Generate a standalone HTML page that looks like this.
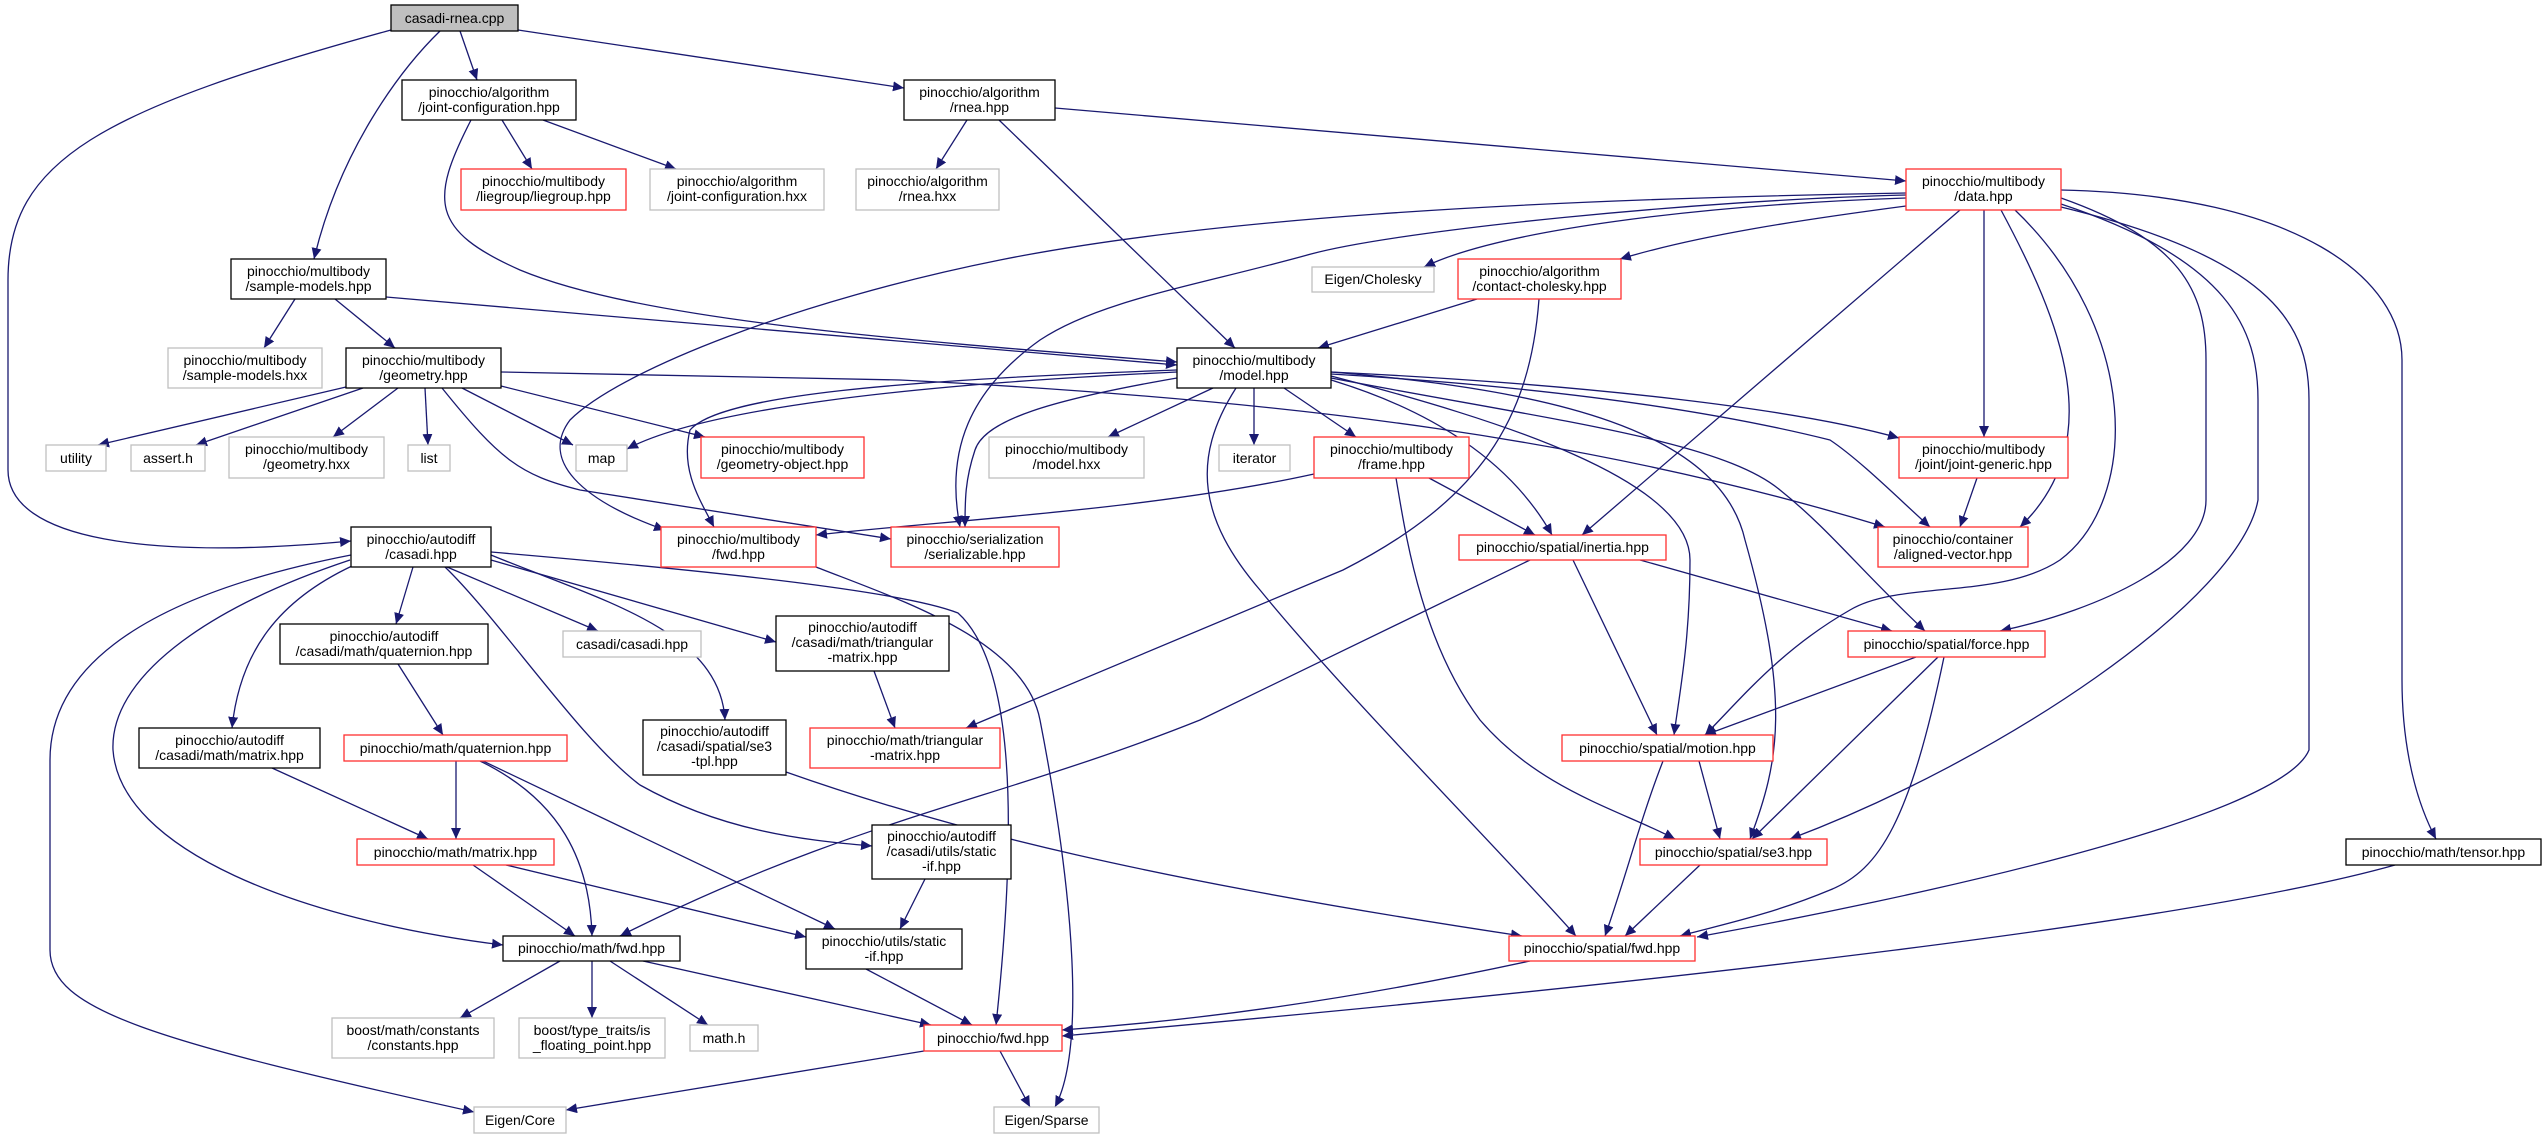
<!DOCTYPE html>
<html><head><meta charset="utf-8"><style>
html,body{margin:0;padding:0;background:#fff}
svg{display:block}
text{font-family:"Liberation Sans",sans-serif;font-size:14px;fill:#000;text-anchor:middle}
.e{fill:none;stroke:#191970;stroke-width:1.3}
.k{fill:#fff;stroke:#000;stroke-width:1.3}
.r{fill:#fff;stroke:#ff3030;stroke-width:1.3}
.g{fill:#fff;stroke:#bfbfbf;stroke-width:1.3}
</style></head><body>
<svg width="2547" height="1139" viewBox="0 0 2547 1139" xmlns="http://www.w3.org/2000/svg">
<defs><marker id="a" markerUnits="userSpaceOnUse" markerWidth="12" markerHeight="10" refX="11" refY="5" orient="auto"><path d="M0,0 L11,5 L0,10 z" fill="#191970"/></marker></defs>
<g class="e" marker-end="url(#a)">
<path d="M460,31 L477,80"/>
<path d="M518,30 L904,88"/>
<path d="M440,31 C400,70 340,150 314,259"/>
<path d="M391,30 C100,110 8,160 8,280 L8,470 C8,540 150,560 351,541"/>
<path d="M502,120 L532,169"/>
<path d="M543,120 L676,169"/>
<path d="M471,120 C430,200 430,230 520,270 C640,320 900,340 1177,362"/>
<path d="M386,297 L1177,365"/>
<path d="M295,299 L264,348"/>
<path d="M335,299 L395,348"/>
<path d="M346,387 L98,445"/>
<path d="M363,388 L196,445"/>
<path d="M398,388 L333,437"/>
<path d="M425,388 L428,445"/>
<path d="M462,388 L573,445"/>
<path d="M501,386 L705,437"/>
<path d="M442,388 C500,460 520,475 580,490 L891,539"/>
<path d="M501,372 L900,380 C1300,400 1600,440 1885,527"/>
<path d="M967,120 L936,169"/>
<path d="M999,120 L1235,348"/>
<path d="M1055,108 L1906,181"/>
<path d="M1906,198 C1700,205 1500,230 1424,267"/>
<path d="M1906,206 C1800,220 1700,235 1620,259"/>
<path d="M1906,193 C1500,200 1200,220 1000,260 C800,300 620,370 570,420 C540,460 580,500 665,530"/>
<path d="M1906,195 C1700,200 1400,230 1311,254 C1200,285 1100,300 1040,340 C970,390 945,450 960,527"/>
<path d="M1960,210 L1582,535"/>
<path d="M1984,210 L1984,437"/>
<path d="M2001,210 C2060,320 2110,440 2020,527"/>
<path d="M2015,210 C2140,330 2140,500 2060,560 C2000,600 1900,580 1850,610 C1780,650 1740,700 1705,735"/>
<path d="M2061,198 C2180,240 2206,290 2206,360 L2206,500 C2206,560 2100,610 2000,631"/>
<path d="M2061,204 C2230,260 2258,330 2258,400 L2258,500 C2240,600 2000,760 1790,839"/>
<path d="M2061,207 C2280,260 2309,330 2309,400 L2309,750 C2280,820 1900,900 1697,937"/>
<path d="M2061,190 C2300,195 2402,280 2402,360 L2402,680 C2402,730 2410,790 2436,839"/>
<path d="M1177,372 C900,385 700,410 627,449"/>
<path d="M1177,370 C900,380 720,395 690,430 C680,470 700,500 714,527"/>
<path d="M1177,378 C1050,400 985,420 975,450 C965,480 965,500 965,527"/>
<path d="M1213,388 L1108,437"/>
<path d="M1254,388 L1254,445"/>
<path d="M1284,388 L1356,437"/>
<path d="M1331,380 C1430,410 1510,460 1552,535"/>
<path d="M1331,372 C1600,385 1800,410 1899,438"/>
<path d="M1331,374 C1600,390 1750,420 1830,440 C1860,460 1900,500 1930,527"/>
<path d="M1331,376 C1500,420 1690,480 1690,560 C1690,640 1680,690 1674,735"/>
<path d="M1331,372 C1550,390 1720,430 1745,540 C1790,700 1780,760 1750,839"/>
<path d="M1331,378 C1550,420 1720,440 1780,490 C1830,530 1860,570 1925,631"/>
<path d="M1236,388 C1190,460 1200,520 1260,590 C1350,700 1500,850 1576,936"/>
<path d="M1477,299 L1318,348"/>
<path d="M1539,299 C1530,420 1480,500 1343,570 L966,728"/>
<path d="M1314,474 C1150,510 950,520 816,535"/>
<path d="M1429,478 L1535,535"/>
<path d="M1396,478 C1405,530 1420,640 1480,720 C1540,790 1620,810 1675,839"/>
<path d="M1977,478 L1960,527"/>
<path d="M1640,560 L1892,631"/>
<path d="M1573,560 L1657,735"/>
<path d="M1530,560 L1200,720 C1000,800 850,820 620,936"/>
<path d="M1916,657 L1705,735"/>
<path d="M1938,657 L1752,839"/>
<path d="M1944,657 C1910,820 1880,870 1830,890 C1770,915 1720,925 1680,936"/>
<path d="M1699,761 L1720,839"/>
<path d="M1663,761 C1640,820 1625,880 1605,936"/>
<path d="M1700,865 L1625,936"/>
<path d="M1530,961 C1350,1000 1200,1020 1062,1030"/>
<path d="M2395,865 C2200,920 1700,980 1062,1036"/>
<path d="M924,1051 L566,1110"/>
<path d="M1000,1051 L1030,1107"/>
<path d="M816,567 C900,600 1025,640 1040,720 C1075,900 1085,1050 1055,1107"/>
<path d="M560,961 L460,1018"/>
<path d="M592,961 L592,1018"/>
<path d="M610,961 L708,1025"/>
<path d="M643,961 L931,1025"/>
<path d="M866,969 L972,1025"/>
<path d="M925,879 L900,929"/>
<path d="M473,865 L575,936"/>
<path d="M506,865 L806,937"/>
<path d="M456,761 L456,839"/>
<path d="M480,761 C560,800 590,860 592,936"/>
<path d="M483,761 L835,929"/>
<path d="M272,768 L428,839"/>
<path d="M398,664 L443,735"/>
<path d="M874,671 L895,728"/>
<path d="M786,772 C950,830 1150,880 1522,936"/>
<path d="M413,567 L396,624"/>
<path d="M447,567 L598,631"/>
<path d="M491,560 L776,642"/>
<path d="M352,566 C280,600 240,650 232,728"/>
<path d="M350,560 C200,610 110,680 113,750 C120,850 300,920 503,945"/>
<path d="M351,555 C120,600 50,680 50,760 L50,950 C50,1010 150,1040 474,1112"/>
<path d="M491,555 C600,600 720,630 725,720"/>
<path d="M445,567 C500,620 580,740 640,785 C720,830 800,840 872,846"/>
<path d="M491,552 C700,570 900,590 958,613 C1010,660 1020,800 996,1025"/>
</g>
<rect x="391" y="5" width="127" height="26" fill="#bfbfbf" stroke="#000" stroke-width="1.3"/><text x="454.5" y="23">casadi-rnea.cpp</text>
<rect class="k" x="402" y="80" width="174" height="40"/><text x="489" y="97">pinocchio/algorithm</text><text x="489" y="112">/joint-configuration.hpp</text>
<rect class="r" x="461" y="169" width="165" height="41"/><text x="543.5" y="186">pinocchio/multibody</text><text x="543.5" y="201">/liegroup/liegroup.hpp</text>
<rect class="g" x="650" y="169" width="174" height="41"/><text x="737" y="186">pinocchio/algorithm</text><text x="737" y="201">/joint-configuration.hxx</text>
<rect class="k" x="904" y="80" width="151" height="40"/><text x="979.5" y="97">pinocchio/algorithm</text><text x="979.5" y="112">/rnea.hpp</text>
<rect class="g" x="856" y="169" width="143" height="41"/><text x="927.5" y="186">pinocchio/algorithm</text><text x="927.5" y="201">/rnea.hxx</text>
<rect class="r" x="1906" y="169" width="155" height="41"/><text x="1983.5" y="186">pinocchio/multibody</text><text x="1983.5" y="201">/data.hpp</text>
<rect class="k" x="231" y="259" width="155" height="40"/><text x="308.5" y="276">pinocchio/multibody</text><text x="308.5" y="291">/sample-models.hpp</text>
<rect class="g" x="168" y="348" width="154" height="40"/><text x="245" y="365">pinocchio/multibody</text><text x="245" y="380">/sample-models.hxx</text>
<rect class="k" x="346" y="348" width="155" height="40"/><text x="423.5" y="365">pinocchio/multibody</text><text x="423.5" y="380">/geometry.hpp</text>
<rect class="g" x="1312" y="267" width="122" height="25"/><text x="1373" y="284">Eigen/Cholesky</text>
<rect class="r" x="1458" y="259" width="163" height="40"/><text x="1539.5" y="276">pinocchio/algorithm</text><text x="1539.5" y="291">/contact-cholesky.hpp</text>
<rect class="k" x="1177" y="348" width="154" height="40"/><text x="1254" y="365">pinocchio/multibody</text><text x="1254" y="380">/model.hpp</text>
<rect class="g" x="46" y="445" width="60" height="26"/><text x="76" y="463">utility</text>
<rect class="g" x="131" y="445" width="74" height="26"/><text x="168" y="463">assert.h</text>
<rect class="g" x="229" y="437" width="155" height="41"/><text x="306.5" y="454">pinocchio/multibody</text><text x="306.5" y="469">/geometry.hxx</text>
<rect class="g" x="408" y="445" width="42" height="26"/><text x="429" y="463">list</text>
<rect class="g" x="576" y="445" width="51" height="26"/><text x="601.5" y="463">map</text>
<rect class="r" x="701" y="437" width="163" height="41"/><text x="782.5" y="454">pinocchio/multibody</text><text x="782.5" y="469">/geometry-object.hpp</text>
<rect class="g" x="989" y="437" width="155" height="41"/><text x="1066.5" y="454">pinocchio/multibody</text><text x="1066.5" y="469">/model.hxx</text>
<rect class="g" x="1219" y="445" width="71" height="26"/><text x="1254.5" y="463">iterator</text>
<rect class="r" x="1314" y="437" width="155" height="41"/><text x="1391.5" y="454">pinocchio/multibody</text><text x="1391.5" y="469">/frame.hpp</text>
<rect class="r" x="1899" y="437" width="169" height="41"/><text x="1983.5" y="454">pinocchio/multibody</text><text x="1983.5" y="469">/joint/joint-generic.hpp</text>
<rect class="r" x="661" y="527" width="155" height="40"/><text x="738.5" y="544">pinocchio/multibody</text><text x="738.5" y="559">/fwd.hpp</text>
<rect class="k" x="351" y="527" width="140" height="40"/><text x="421" y="544">pinocchio/autodiff</text><text x="421" y="559">/casadi.hpp</text>
<rect class="r" x="891" y="527" width="168" height="40"/><text x="975" y="544">pinocchio/serialization</text><text x="975" y="559">/serializable.hpp</text>
<rect class="r" x="1459" y="535" width="207" height="25"/><text x="1562.5" y="552">pinocchio/spatial/inertia.hpp</text>
<rect class="r" x="1878" y="527" width="150" height="40"/><text x="1953" y="544">pinocchio/container</text><text x="1953" y="559">/aligned-vector.hpp</text>
<rect class="k" x="280" y="624" width="208" height="40"/><text x="384" y="641">pinocchio/autodiff</text><text x="384" y="656">/casadi/math/quaternion.hpp</text>
<rect class="g" x="563" y="631" width="138" height="26"/><text x="632" y="649">casadi/casadi.hpp</text>
<rect class="k" x="776" y="616" width="173" height="55"/><text x="862.5" y="632">pinocchio/autodiff</text><text x="862.5" y="647">/casadi/math/triangular</text><text x="862.5" y="662">-matrix.hpp</text>
<rect class="r" x="1848" y="631" width="197" height="26"/><text x="1946.5" y="649">pinocchio/spatial/force.hpp</text>
<rect class="k" x="139" y="728" width="181" height="40"/><text x="229.5" y="745">pinocchio/autodiff</text><text x="229.5" y="760">/casadi/math/matrix.hpp</text>
<rect class="r" x="344" y="735" width="223" height="26"/><text x="455.5" y="753">pinocchio/math/quaternion.hpp</text>
<rect class="k" x="643" y="720" width="143" height="55"/><text x="714.5" y="736">pinocchio/autodiff</text><text x="714.5" y="751">/casadi/spatial/se3</text><text x="714.5" y="766">-tpl.hpp</text>
<rect class="r" x="810" y="728" width="190" height="40"/><text x="905" y="745">pinocchio/math/triangular</text><text x="905" y="760">-matrix.hpp</text>
<rect class="r" x="1562" y="735" width="211" height="26"/><text x="1667.5" y="753">pinocchio/spatial/motion.hpp</text>
<rect class="r" x="357" y="839" width="197" height="26"/><text x="455.5" y="857">pinocchio/math/matrix.hpp</text>
<rect class="k" x="872" y="825" width="139" height="54"/><text x="941.5" y="841">pinocchio/autodiff</text><text x="941.5" y="856">/casadi/utils/static</text><text x="941.5" y="871">-if.hpp</text>
<rect class="r" x="1640" y="839" width="187" height="26"/><text x="1733.5" y="857">pinocchio/spatial/se3.hpp</text>
<rect class="k" x="2346" y="839" width="195" height="26"/><text x="2443.5" y="857">pinocchio/math/tensor.hpp</text>
<rect class="k" x="503" y="936" width="177" height="25"/><text x="591.5" y="953">pinocchio/math/fwd.hpp</text>
<rect class="k" x="806" y="929" width="156" height="40"/><text x="884" y="946">pinocchio/utils/static</text><text x="884" y="961">-if.hpp</text>
<rect class="r" x="1509" y="936" width="186" height="25"/><text x="1602" y="953">pinocchio/spatial/fwd.hpp</text>
<rect class="g" x="332" y="1018" width="162" height="40"/><text x="413" y="1035">boost/math/constants</text><text x="413" y="1050">/constants.hpp</text>
<rect class="g" x="519" y="1018" width="146" height="40"/><text x="592" y="1035">boost/type_traits/is</text><text x="592" y="1050">_floating_point.hpp</text>
<rect class="g" x="690" y="1025" width="68" height="26"/><text x="724" y="1043">math.h</text>
<rect class="r" x="924" y="1025" width="138" height="26"/><text x="993" y="1043">pinocchio/fwd.hpp</text>
<rect class="g" x="474" y="1107" width="92" height="26"/><text x="520" y="1125">Eigen/Core</text>
<rect class="g" x="994" y="1107" width="105" height="26"/><text x="1046.5" y="1125">Eigen/Sparse</text>
</svg>
</body></html>
